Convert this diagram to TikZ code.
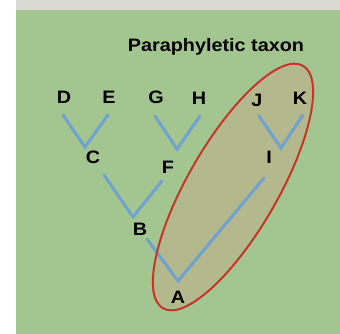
\documentclass[tikz,border=0pt]{standalone}
\usepackage{fontspec}
\setmainfont{Liberation Sans}[FakeStretch=1.1]
\definecolor{bggreen}{HTML}{A3C690}
\definecolor{topgray}{HTML}{D9DAD3}
\definecolor{inside}{HTML}{B3B98C}
\definecolor{branch}{HTML}{6FA2D0}
\definecolor{ovalred}{HTML}{C5352B}
\begin{document}
\begin{tikzpicture}[x=1pt,y=-1pt,
  lbl/.style={font=\bfseries\fontsize{18}{18}\selectfont, text=black, inner sep=0pt},
  branchline/.style={draw=branch, line width=3pt, line cap=round, line join=miter},
  oval/.style={draw=ovalred, line width=2pt}]
\useasboundingbox (0,0) rectangle (340,334);
\fill[white] (0,0) rectangle (340,334);
\fill[topgray] (16,0) rectangle (340,10);
\fill[bggreen] (16,10) rectangle (340,334);
% oval fill
\begin{scope}[shift={(233,187)}, rotate=60]
  \fill[inside] (0,0) ellipse [x radius=140, y radius=45];
\end{scope}
% title
\node[lbl] (title) at (216,47) {Paraphyletic taxon};
% labels
\node[lbl] (D) at (64,97) {D};
\node[lbl] (E) at (109,97) {E};
\node[lbl] (G) at (156,97) {G};
\node[lbl] (H) at (199,98) {H};
\node[lbl] (J) at (257,100) {J};
\node[lbl] (K) at (300,98) {K};
\node[lbl] (C) at (93,157) {C};
\node[lbl] (F) at (168,167) {F};
\node[lbl] (I) at (269,157) {I};
\node[lbl] (B) at (140,229) {B};
\node[lbl] (A) at (178,297) {A};
% branch points
\coordinate (d) at (63,115);
\coordinate (e) at (108,115);
\coordinate (c) at (85,147);
\coordinate (g) at (155,116);
\coordinate (h) at (200,116);
\coordinate (f) at (177,149);
\coordinate (j) at (259,116);
\coordinate (k) at (303,115);
\coordinate (i) at (281,148);
\coordinate (cb) at (104,175);
\coordinate (fb) at (162,181);
\coordinate (b) at (133,217);
\coordinate (ba) at (147,239);
\coordinate (ia) at (264,178);
\coordinate (a) at (178,281);
\draw[branchline] (d) -- (c) -- (e);
\draw[branchline] (g) -- (f) -- (h);
\draw[branchline] (j) -- (i) -- (k);
\draw[branchline] (cb) -- (b) -- (fb);
\draw[branchline] (ba) -- (a) -- (ia);
% oval outline
\begin{scope}[shift={(233,187)}, rotate=60]
  \draw[oval] (0,0) ellipse [x radius=140, y radius=45];
\end{scope}
\end{tikzpicture}
\end{document}
